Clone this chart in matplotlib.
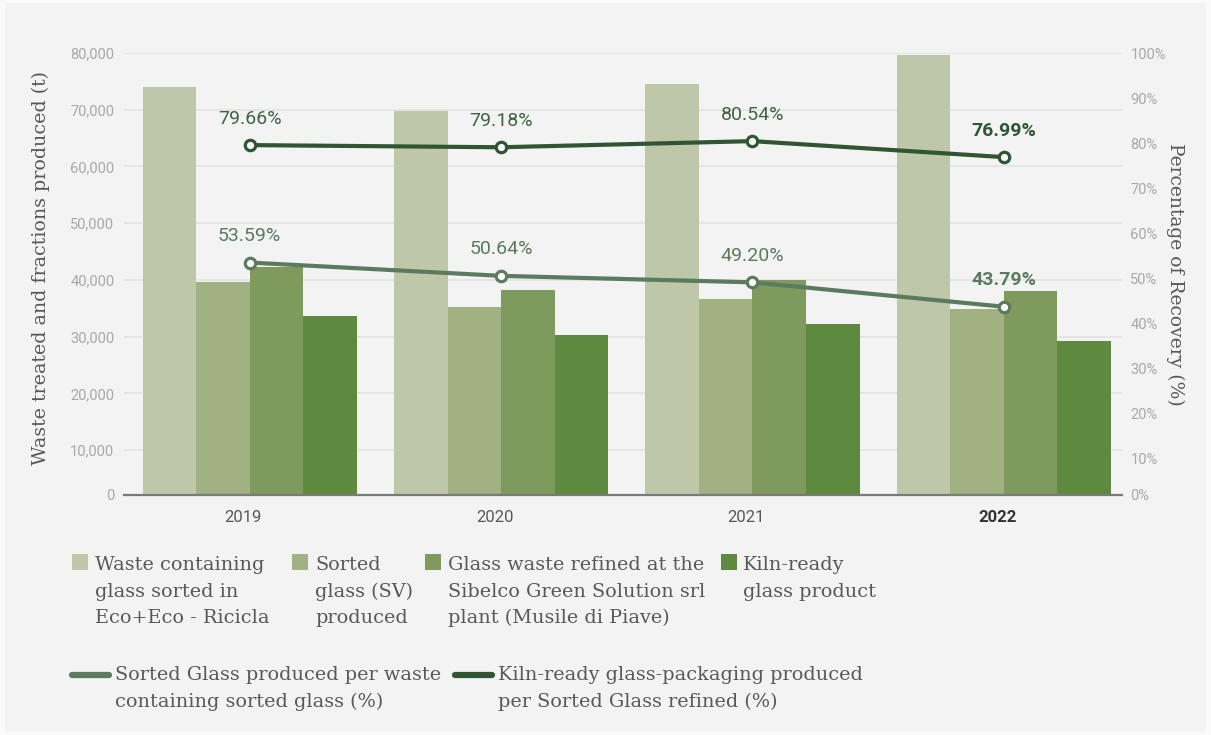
import matplotlib
matplotlib.use("Agg")
import matplotlib.pyplot as plt
import numpy as np
from matplotlib.patches import Rectangle
from matplotlib.lines import Line2D

# ---- data -------------------------------------------------------------
years = ["2019", "2020", "2021", "2022"]
waste_sorted = [74000, 69700, 74500, 79700]      # waste containing glass sorted in Eco+Eco - Ricicla (t)
sorted_glass = [39650, 35300, 36650, 34900]      # sorted glass (SV) produced (t)
glass_refined = [42300, 38200, 40000, 38100]     # glass waste refined at Musile di Piave (t)
kiln_ready = [33700, 30250, 32200, 29300]        # kiln-ready glass product (t)
pct_sorted = [53.59, 50.64, 49.20, 43.79]        # sorted glass per waste containing glass (%)
pct_kiln = [79.66, 79.18, 80.54, 76.99]          # kiln-ready per sorted glass refined (%)

bar_labels = [
    ["Waste containing", "glass sorted in", "Eco+Eco - Ricicla"],
    ["Sorted", "glass (SV)", "produced"],
    ["Glass waste refined at the", "Sibelco Green Solution srl", "plant (Musile di Piave)"],
    ["Kiln-ready", "glass product"],
]
line_labels = [
    ["Sorted Glass produced per waste", "containing sorted glass (%)"],
    ["Kiln-ready glass-packaging produced", "per Sorted Glass refined (%)"],
]

# ---- style ------------------------------------------------------------
W, H = 1211, 735
BG = "#f3f3f3"
bar_colors = ["#bec8a8", "#a0b182", "#7e9a5d", "#5d8a3e"]
line_colors = ["#5b7b5f", "#2f5534"]
label_colors = ["#5a7a5d", "#3f6444"]
text_gray = "#585858"
tick_gray = "#a8a8a8"
SERIF = ["DejaVu Serif"]
SANS = ["Roboto", "DejaVu Sans"]


def fx(px):
    return px / W


def fy(py):
    return 1 - py / H


fig = plt.figure(figsize=(W / 100, H / 100), dpi=100, facecolor="#fafafa")
fig.patches.append(Rectangle((fx(5), fy(732)), fx(1201), 729 / H,
                             transform=fig.transFigure, facecolor=BG,
                             edgecolor="none", zorder=-10))

ax = fig.add_axes([fx(124), fy(495), fx(1122) - fx(124), (495 - 53) / H])
ax.set_facecolor("none")

x = np.arange(len(years))
bw = 0.213
series = [waste_sorted, sorted_glass, glass_refined, kiln_ready]
for k, (vals, col) in enumerate(zip(series, bar_colors)):
    ax.bar(x + (k - 1.5) * bw, vals, width=bw, color=col, zorder=2, linewidth=0)

y_floor = 2100
ax.set_xlim(-0.5, 3.47)
ax.set_ylim(y_floor, 80000)
left_ticks = [y_floor] + list(range(10000, 80001, 10000))
ax.set_yticks(left_ticks)
ax.set_yticklabels(["0"] + [f"{v:,}" for v in left_ticks[1:]])
ax.tick_params(axis="y", length=0, pad=7, labelsize=10.5, labelcolor=tick_gray)
for lab in ax.get_yticklabels():
    lab.set_family(SANS)

ax.set_xticks(x - 0.025)
ax.set_xticklabels(years)
ax.tick_params(axis="x", length=0, pad=11, labelsize=12, labelcolor=text_gray)
for lab in ax.get_xticklabels():
    lab.set_family(SANS)
xt = ax.get_xticklabels()[-1]
xt.set_fontweight("bold")
xt.set_color("#333333")

ax.grid(axis="y", color="#e4e4e4", linewidth=1.3, zorder=0)
ax.set_axisbelow(True)
for s in ["left", "right", "top"]:
    ax.spines[s].set_visible(False)
ax.spines["bottom"].set_color("#7a7a7a")
ax.spines["bottom"].set_linewidth(1.6)
ax.spines["bottom"].set_zorder(5)

ax.set_ylabel("Waste treated and fractions produced (t)", family=SERIF,
              fontsize=13.7, color=text_gray)
ax.yaxis.set_label_coords(-0.074, 0.513)

# ---- percentage lines -------------------------------------------------
ax2 = ax.twinx()
ax2.set_ylim(2.0, 100.1)
right_ticks = [2.0] + list(range(10, 101, 10))
ax2.set_yticks(right_ticks)
ax2.set_yticklabels(["0%"] + [f"{v}%" for v in right_ticks[1:]])
ax2.tick_params(axis="y", length=0, pad=6, labelsize=10.5, labelcolor=tick_gray)
for lab in ax2.get_yticklabels():
    lab.set_family(SANS)
for s in ["left", "right", "top", "bottom"]:
    ax2.spines[s].set_visible(False)
ax2.set_ylabel("Percentage of Recovery (%)", family=SERIF, fontsize=13.5,
               color=text_gray, rotation=-90, labelpad=13)

for vals, col, lcol in zip([pct_sorted, pct_kiln], line_colors, label_colors):
    ax2.plot(x, vals, color=col, linewidth=3, zorder=4,
             marker="o", markersize=7.5, markerfacecolor="white",
             markeredgecolor=col, markeredgewidth=2.3, solid_capstyle="round")
    for i, v in enumerate(vals):
        last = i == len(vals) - 1
        ax2.annotate(f"{v:.2f}%", (x[i], v), xytext=(0, 19),
                     textcoords="offset points", ha="center", va="center",
                     fontsize=14, family=SANS,
                     fontweight="bold" if last else "normal",
                     color=col if last else lcol, zorder=6)

# ---- legend -----------------------------------------------------------
LEG_FS = 13.9
line_gap = 26.7
sq_x = [72, 292, 425, 721]
tx_x = [95, 315, 448, 743]
row1_base = 570
for k in range(4):
    fig.patches.append(Rectangle((fx(sq_x[k]), fy(570)), 16 / W, 16 / H,
                                 transform=fig.transFigure,
                                 facecolor=bar_colors[k], edgecolor="none"))
    for j, line in enumerate(bar_labels[k]):
        fig.text(fx(tx_x[k]), fy(row1_base + j * line_gap), line,
                 family=SERIF, fontsize=LEG_FS, color=text_gray,
                 ha="left", va="baseline")

h_x = [(72, 109), (455, 492)]
t2_x = [115, 498]
row2_base = 680
for k in range(2):
    fig.lines.append(Line2D([fx(h_x[k][0]), fx(h_x[k][1])], [fy(675), fy(675)],
                            transform=fig.transFigure, color=line_colors[k],
                            linewidth=4.5, solid_capstyle="round"))
    for j, line in enumerate(line_labels[k]):
        fig.text(fx(t2_x[k]), fy(row2_base + j * line_gap), line,
                 family=SERIF, fontsize=LEG_FS, color=text_gray,
                 ha="left", va="baseline")

fig.savefig("out.png", dpi=100, facecolor=fig.get_facecolor())
